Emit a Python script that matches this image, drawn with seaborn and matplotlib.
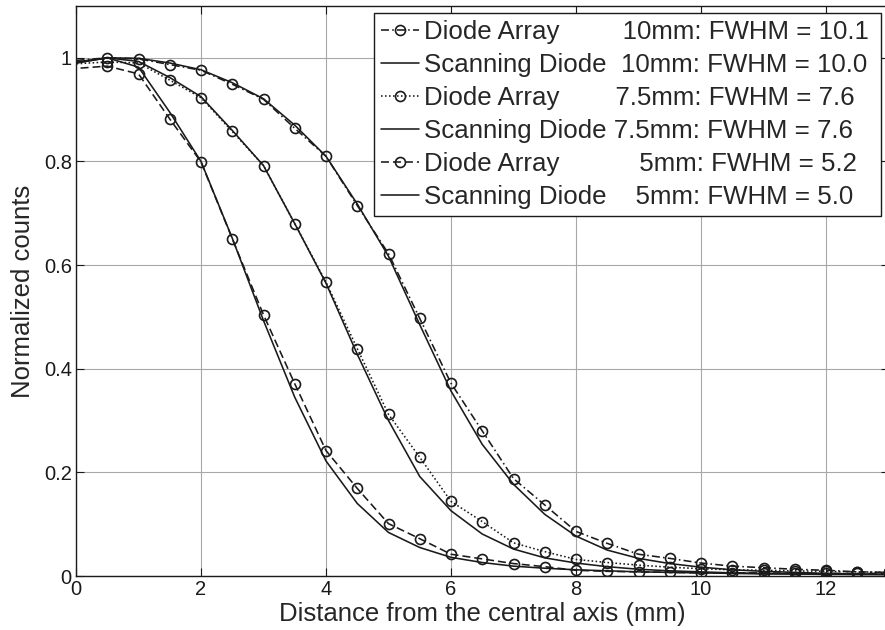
import matplotlib
matplotlib.use("Agg")
import matplotlib.pyplot as plt
import seaborn as sns
import numpy as np
import pandas as pd

sns.set_theme(style="white")
plt.rcParams['font.family'] = ['Liberation Sans', 'DejaVu Sans']

# ---------------- data ----------------
x_array = [-0.5, 0.5, 1, 1.5, 2, 2.5, 3, 3.5, 4, 4.5, 5, 5.5, 6, 6.5, 7, 7.5, 8,
           8.5, 9, 9.5, 10, 10.5, 11, 11.5, 12, 12.5, 13]
array_10mm = [0.990, 1.000, 0.998, 0.987, 0.976, 0.949, 0.920, 0.864, 0.810, 0.715,
              0.622, 0.497, 0.372, 0.280, 0.188, 0.137, 0.086, 0.063, 0.042, 0.034,
              0.025, 0.019, 0.016, 0.013, 0.011, 0.008, 0.007]
array_75mm = [0.985, 0.992, 0.990, 0.957, 0.923, 0.858, 0.792, 0.680, 0.567, 0.439,
              0.312, 0.229, 0.144, 0.105, 0.064, 0.047, 0.032, 0.026, 0.021, 0.017,
              0.014, 0.012, 0.011, 0.010, 0.009, 0.008, 0.007]
array_5mm = [0.975, 0.984, 0.969, 0.882, 0.799, 0.651, 0.504, 0.371, 0.242, 0.169,
             0.101, 0.072, 0.042, 0.033, 0.024, 0.018, 0.011, 0.009, 0.008, 0.007,
             0.006, 0.006, 0.006, 0.005, 0.005, 0.005, 0.005]

x_scan = [0, 0.5, 1, 1.5, 2, 2.5, 3, 3.5, 4, 4.5, 5, 5.5, 6, 6.5, 7, 7.5, 8,
          8.5, 9, 9.5, 10, 10.5, 11, 11.5, 12, 12.5, 13]
scan_10mm = [0.990, 1.000, 0.999, 0.990, 0.977, 0.952, 0.921, 0.870, 0.810, 0.718,
             0.617, 0.485, 0.357, 0.254, 0.177, 0.119, 0.077, 0.050, 0.034, 0.024,
             0.017, 0.012, 0.009, 0.007, 0.005, 0.004, 0.003]
scan_75mm = [0.990, 1.000, 0.993, 0.962, 0.925, 0.860, 0.792, 0.680, 0.565, 0.428,
             0.300, 0.192, 0.126, 0.081, 0.052, 0.035, 0.025, 0.018, 0.013, 0.010,
             0.008, 0.006, 0.005, 0.004, 0.004, 0.003, 0.003]
scan_5mm = [0.992, 1.000, 0.982, 0.895, 0.800, 0.652, 0.493, 0.345, 0.222, 0.140,
            0.084, 0.055, 0.036, 0.026, 0.019, 0.015, 0.012, 0.010, 0.008, 0.007,
            0.006, 0.005, 0.004, 0.004, 0.003, 0.003, 0.003]

TS = "\u2009"  # thin space for fine alignment
labels = [
    "Diode Array" + " " * 8 + TS + "10mm: FWHM = 10.1",
    "Scanning Diode" + " " * 2 + "10mm: FWHM = 10.0 ",
    "Diode Array" + " " * 7 + TS + "7.5mm: FWHM = 7.6",
    "Scanning Diode" + " " + "7.5mm: FWHM = 7.6",
    "Diode Array" + " " * 11 + "5mm: FWHM = 5.2",
    "Scanning Diode" + " " * 4 + "5mm: FWHM = 5.0",
]

x_ticks = [0, 2, 4, 6, 8, 10, 12]
y_ticks = [0, 0.2, 0.4, 0.6, 0.8, 1]

# ---------------- figure ----------------
fig = plt.figure(figsize=(8.85, 6.3), dpi=100)
ax = fig.add_axes([76 / 885, 1 - 576 / 630, 812.5 / 885, 570 / 630])

mk = dict(marker='o', markersize=7.2, markerfacecolor='none', markeredgecolor='k',
          markeredgewidth=1.2)
series = [
    (x_array, array_10mm, dict(linestyle=(0, (5, 2, 1, 2)), **mk), labels[0]),
    (x_scan, scan_10mm, dict(linestyle='-'), labels[1]),
    (x_array, array_75mm, dict(linestyle=(0, (1, 1.5)), **mk), labels[2]),
    (x_scan, scan_75mm, dict(linestyle='-'), labels[3]),
    (x_array, array_5mm, dict(linestyle=(0, (5, 2.5)), **mk), labels[4]),
    (x_scan, scan_5mm, dict(linestyle='-'), labels[5]),
]
for xs, ys, style, lab in series:
    df = pd.DataFrame({"x": xs, "y": ys})
    sns.lineplot(data=df, x="x", y="y", ax=ax, color='k', linewidth=1.15,
                 label=lab, sort=False, estimator=None, **style)

ax.set_xlim(0, 13)
ax.set_ylim(0, 1.1)
ax.set_xticks(x_ticks)
ax.set_yticks(y_ticks)
ax.set_xticklabels([f"{v:g}" for v in x_ticks])
ax.set_yticklabels([f"{v:g}" for v in y_ticks])
ax.tick_params(direction='in', length=6, width=0.8, colors='k', labelsize=14.5,
               top=True, right=True, bottom=True, left=True, pad=3)
ax.grid(True, color='#a8a8a8', linewidth=0.8, linestyle='-')
for sp in ax.spines.values():
    sp.set_color('k')
    sp.set_linewidth(1.0)
    sp.set_visible(True)

ax.set_xlabel("Distance from the central axis (mm)", fontsize=18.5, labelpad=2)
ax.set_ylabel("Normalized counts", fontsize=18.5, labelpad=6)

leg = ax.legend(loc='upper right', bbox_to_anchor=(881 / 885, 1 - 13 / 630),
                bbox_transform=fig.transFigure, borderaxespad=0, fontsize=18.65,
                frameon=True, fancybox=False, shadow=False, handlelength=1.5,
                handletextpad=0.155, labelspacing=0.35, borderpad=0.27, numpoints=1)
leg.get_frame().set_edgecolor('k')
leg.get_frame().set_linewidth(1.0)
leg.get_frame().set_facecolor('white')
leg.get_frame().set_alpha(1)

fig.savefig("out.png", dpi=100)
